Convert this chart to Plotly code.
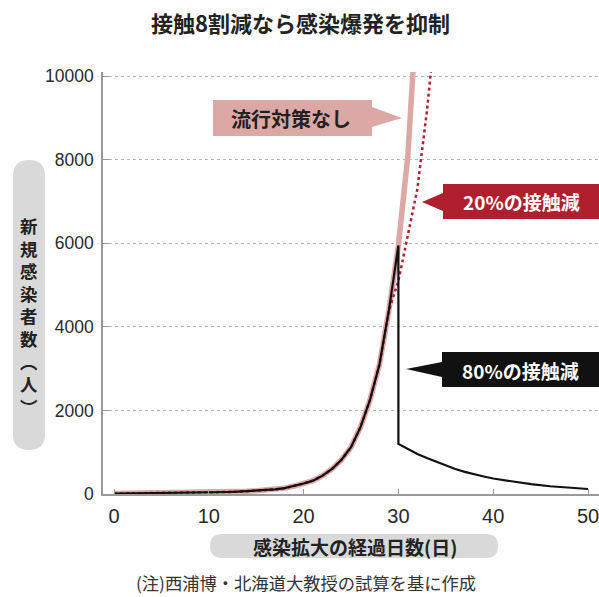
import plotly.graph_objects as go

# ---------------- data ----------------
days_none = list(range(0, 32)) + [31.55]
cases_none = [10, 12, 14, 16, 18, 21, 24, 27, 30, 33,
              37, 42, 48, 56, 65, 76, 90, 110, 140, 190,
              250, 320, 440, 600, 820, 1120, 1600, 2250, 3100, 4400,
              5950, 8100, 10150]

days_20_tail = [29.5, 30, 31, 32, 33, 33.45]
cases_20_tail = [4750, 5100, 6200, 7300, 9150, 10150]

days_80_tail = [30, 30, 31, 32, 33, 34, 35, 36, 37, 38, 39, 40, 42, 44, 46, 48, 50]
cases_80_tail = [5950, 1200, 1080, 960, 860, 770, 680, 600, 530, 470, 420, 370,
                 300, 235, 185, 150, 120]

x_ticks = [0, 10, 20, 30, 40, 50]
y_ticks = [0, 2000, 4000, 6000, 8000, 10000]

title_text = "接触8割減なら感染爆発を抑制"
y_title_chars = ["新", "規", "感", "染", "者", "数", "︵", "人", "︶"]
x_title_text = "感染拡大の経過日数(日)"
note_text = "(注)西浦博・北海道大教授の試算を基に作成"
label_none = "流行対策なし"
label_20 = "20%の接触減"
label_80 = "80%の接触減"

days_20 = days_none[:30] + days_20_tail
cases_20 = cases_none[:30] + cases_20_tail
days_80 = days_none[:30] + days_80_tail
cases_80 = cases_none[:30] + cases_80_tail

# ---------------- layout helpers ----------------
W, H = 599, 597
L, R, T, B = 103, 0, 72, 103
PW, PH = W - L - R, H - T - B


def px(x):
    return (x - L) / PW


def py(y):
    return (H - B - y) / PH


def poly(points):
    s = "M " + " L ".join(f"{px(x):.5f},{py(y):.5f}" for x, y in points) + " Z"
    return s


def pill(x0, y0, x1, y1, r):
    def p(x, y):
        return f"{px(x):.5f},{py(y):.5f}"
    return (f"M {p(x0 + r, y0)} L {p(x1 - r, y0)} Q {p(x1, y0)} {p(x1, y0 + r)} "
            f"L {p(x1, y1 - r)} Q {p(x1, y1)} {p(x1 - r, y1)} "
            f"L {p(x0 + r, y1)} Q {p(x0, y1)} {p(x0, y1 - r)} "
            f"L {p(x0, y0 + r)} Q {p(x0, y0)} {p(x0 + r, y0)} Z")


PINK = "#dca8a6"
DARKRED = "#b01f2e"
BLACK = "#111111"
CJK = "Noto Sans CJK JP"

fig = go.Figure()
fig.add_trace(go.Scatter(x=days_none, y=cases_none, mode="lines",
                         line=dict(color=PINK, width=5.5), hoverinfo="skip"))
fig.add_trace(go.Scatter(x=days_20, y=cases_20, mode="lines",
                         line=dict(color=DARKRED, width=2.5, dash="dot"), hoverinfo="skip"))
fig.add_trace(go.Scatter(x=days_80, y=cases_80, mode="lines",
                         line=dict(color=BLACK, width=2.2), hoverinfo="skip"))

shapes = [
    dict(type="path", xref="paper", yref="paper", layer="below", line_width=0,
         fillcolor="#d9d9d9", path=pill(13, 160, 45, 450, 16)),
    dict(type="path", xref="paper", yref="paper", layer="below", line_width=0,
         fillcolor="#d9d9d9", path=pill(210, 534, 498, 558, 12)),
    dict(type="path", xref="paper", yref="paper", layer="above", line_width=0,
         fillcolor=PINK,
         path=poly([(213, 100), (372, 100), (372, 107), (402, 118), (372, 127),
                    (372, 136), (213, 136)])),
    dict(type="path", xref="paper", yref="paper", layer="above", line_width=0,
         fillcolor=DARKRED,
         path=poly([(443, 184), (600, 184), (600, 219), (443, 219), (443, 211),
                    (422, 202), (443, 193)])),
    dict(type="path", xref="paper", yref="paper", layer="above", line_width=0,
         fillcolor=BLACK,
         path=poly([(442, 352), (600, 352), (600, 387), (442, 387), (442, 377),
                    (406, 369), (442, 362)])),
]

ann = []


def add_text(text, x, y, size, color="#222", weight="bold", family=CJK):
    ann.append(dict(text=text, xref="paper", yref="paper", x=px(x), y=py(y),
                    xanchor="center", yanchor="middle", showarrow=False,
                    font=dict(family=family, size=size, color=color, weight=weight)))


add_text(title_text, 300, 22, 22)
add_text("<br>".join(y_title_chars), 29, 316, 17.4)
add_text(x_title_text, 355, 546, 19)
add_text(note_text, 306, 582, 17.3, color="#333", weight="normal")
add_text(label_none, 291, 118, 20)
add_text(label_20, 521, 202, 19, color="white")
add_text(label_80, 520, 370, 19, color="white")

fig.update_layout(
    width=W, height=H,
    margin=dict(l=L, r=R, t=T, b=B, autoexpand=False),
    paper_bgcolor="white", plot_bgcolor="white",
    showlegend=False,
    shapes=shapes, annotations=ann,
    xaxis=dict(range=[-1.16, 51.16], tickvals=x_ticks, ticktext=[str(v) for v in x_ticks],
               showline=True, linecolor="#9a9a9a", linewidth=1.5,
               ticks="inside", ticklen=5, tickcolor="#9a9a9a", tickwidth=1.2,
               showgrid=False, zeroline=False, automargin=False,
               ticklabeloverflow="allow",
               tickfont=dict(family="Liberation Sans, Arial", size=20, color="#2a2a2a"),
               ticklabelstandoff=3),
    yaxis=dict(range=[0, 10100], tickvals=y_ticks, ticktext=[str(v) for v in y_ticks],
               showline=True, linecolor="#9a9a9a", linewidth=1.5,
               ticks="inside", ticklen=6, tickcolor="#9a9a9a", tickwidth=1.2,
               showgrid=True, gridcolor="#b4b4b4", griddash="dot", gridwidth=1,
               zeroline=False, automargin=False, ticklabeloverflow="allow",
               tickfont=dict(family="Liberation Sans, Arial", size=17.5, color="#2a2a2a"),
               ticklabelstandoff=4),
)

fig.write_html("out.html")
